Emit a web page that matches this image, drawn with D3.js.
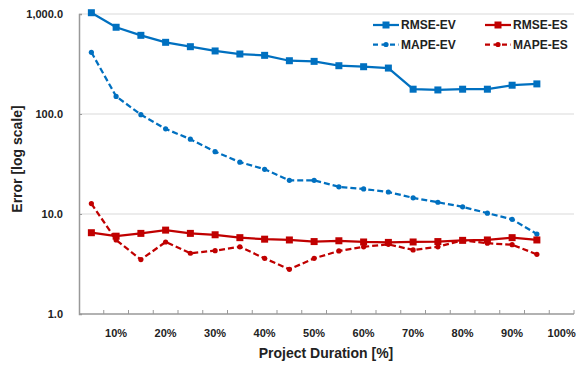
<!DOCTYPE html>
<html><head><meta charset="utf-8">
<script src="https://cdn.jsdelivr.net/npm/d3@7/dist/d3.min.js"></script>
<style>body{margin:0;background:#fff}svg{display:block;font-family:"Liberation Sans",Arial,sans-serif}</style>
</head><body><svg id="c" width="587" height="365"></svg>
<script>
const categories = ["5%","10%","15%","20%","25%","30%","35%","40%","45%","50%","55%","60%","65%","70%","75%","80%","85%","90%","95%","100%"];
const rmseEV = [1030,737,612,521,471,427,398,386,341,336,304,297,288,177,174,177,177,194,200];
const mapeEV = [414,150,98.5,71,56,42,33,28,21.7,21.7,18.7,17.8,16.6,14.5,13.1,11.8,10.2,8.85,6.3];
const rmseES = [6.5,6.0,6.4,6.9,6.4,6.2,5.8,5.6,5.5,5.3,5.4,5.25,5.2,5.25,5.3,5.45,5.5,5.8,5.5];
const mapeES = [12.7,5.5,3.5,5.25,4.05,4.3,4.7,3.6,2.8,3.6,4.27,4.7,4.97,4.37,4.7,5.45,5.1,4.93,3.95];
const yTicks = [1,10,100,1000];
const xLabels = ["10%","20%","30%","40%","50%","60%","70%","80%","90%","100%"];
const seriesNames = ["RMSE-EV","MAPE-EV","RMSE-ES","MAPE-ES"];

const blue = "#0070C0", red = "#C00000";
const series = [
  {name:seriesNames[0], values:rmseEV, color:blue, dash:null, marker:"square"},
  {name:seriesNames[1], values:mapeEV, color:blue, dash:"6,3", marker:"dot"},
  {name:seriesNames[2], values:rmseES, color:red, dash:null, marker:"square"},
  {name:seriesNames[3], values:mapeES, color:red, dash:"6,3", marker:"dot"}
];

const svg = d3.select("#c");
const L = 79, R = 574, T = 14, B = 314;
const x = d3.scaleBand().domain(categories).range([L, R]);
const y = d3.scaleLog().domain([1, 1000]).range([B, T]);

// gridlines
svg.append("g").selectAll("line").data(yTicks.slice(1)).join("line")
  .attr("x1", L).attr("x2", R).attr("y1", d => y(d)).attr("y2", d => y(d))
  .attr("stroke", "#d9d9d9").attr("stroke-width", 1);

// y axis
const yAxis = d3.axisLeft(y).tickValues(yTicks).tickFormat(d3.format(",.1f")).tickSize(-3).tickPadding(16);
const gy = svg.append("g").attr("transform", `translate(${L},0)`).call(yAxis);
gy.select(".domain").attr("stroke", "#999").attr("stroke-width", 1.5);
gy.selectAll(".tick line").attr("stroke", "#999");
gy.selectAll("text").attr("font-size", 11).attr("font-weight", "bold").attr("fill", "#222");

// x axis ticks at band boundaries
const bounds = categories.map(c => x(c)).concat([R]);
svg.append("g").selectAll("line").data(bounds.slice(1)).join("line")
  .attr("x1", d => d).attr("x2", d => d).attr("y1", B).attr("y2", B - 4)
  .attr("stroke", "#999").attr("stroke-width", 1);
svg.append("line").attr("x1", L).attr("x2", R).attr("y1", B).attr("y2", B)
  .attr("stroke", "#999").attr("stroke-width", 1.5);
svg.append("g").selectAll("text").data(xLabels).join("text")
  .attr("x", d => x(d) + x.bandwidth() / 2).attr("y", 337)
  .attr("text-anchor", "middle").attr("font-size", 11).attr("font-weight", "bold").attr("fill", "#222")
  .text(d => d);

// axis titles
svg.append("text").attr("x", 326).attr("y", 358).attr("text-anchor", "middle")
  .attr("font-size", 14).attr("font-weight", "bold").attr("fill", "#222").text("Project Duration [%]");
svg.append("text").attr("transform", "translate(22,159) rotate(-90)").attr("text-anchor", "middle")
  .attr("font-size", 14).attr("font-weight", "bold").attr("fill", "#222").text("Error [log scale]");

// series
const cx = i => x(categories[i]) + x.bandwidth() / 2;
const line = d3.line().x((d, i) => cx(i)).y(d => y(d));
function drawMarker(g, m, px, py, color) {
  if (m === "square") g.append("rect").attr("x", px - 3.5).attr("y", py - 3.5).attr("width", 7).attr("height", 7).attr("fill", color);
  else g.append("circle").attr("cx", px).attr("cy", py).attr("r", 2.6).attr("fill", color);
}
series.forEach(s => {
  const g = svg.append("g");
  g.append("path").attr("d", line(s.values)).attr("fill", "none").attr("stroke", s.color)
    .attr("stroke-width", 2.25).attr("stroke-dasharray", s.dash);
  s.values.forEach((v, i) => drawMarker(g, s.marker, cx(i), y(v), s.color));
});

// legend
const legPos = [[373, 25], [373, 44.5], [485, 25], [485, 44.5]];
series.forEach((s, i) => {
  const [lx, ly] = legPos[i];
  const g = svg.append("g");
  g.append("line").attr("x1", lx).attr("x2", lx + 26).attr("y1", ly).attr("y2", ly)
    .attr("stroke", s.color).attr("stroke-width", 2.25).attr("stroke-dasharray", s.dash ? "5,3.5" : null);
  drawMarker(g, s.marker, lx + 13, ly, s.color);
  g.append("text").attr("x", lx + 28).attr("y", ly + 4.2).attr("font-size", 12).attr("font-weight", "bold")
    .attr("fill", "#222").text(s.name);
});
</script></body></html>
